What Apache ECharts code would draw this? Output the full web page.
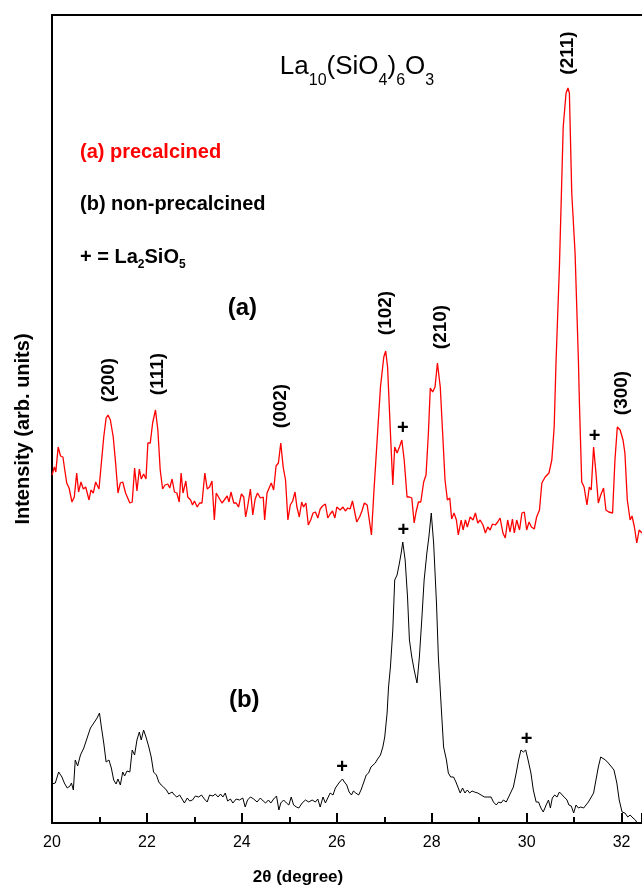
<!DOCTYPE html>
<html>
<head>
<meta charset="utf-8">
<script src="https://cdn.jsdelivr.net/npm/echarts@6/dist/echarts.min.js"></script>
<style>
  html, body { margin: 0; padding: 0; background: #fff; }
  #chart { width: 642px; height: 889px; }
</style>
</head>
<body>
<div id="chart"></div>
<script>
// (a) precalcined: [2theta, intensity (arb.)]
var patternA = [
  [20.00, 348], [20.05, 356], [20.08, 351], [20.13, 376], [20.18, 367], [20.23, 366], [20.26, 356], [20.31, 340],
  [20.36, 335], [20.42, 321], [20.47, 326], [20.52, 350], [20.56, 331], [20.61, 341], [20.66, 334], [20.71, 336],
  [20.78, 323], [20.82, 333], [20.87, 330], [20.92, 341], [20.99, 334], [21.04, 360], [21.09, 386], [21.14, 405],
  [21.18, 408], [21.23, 403], [21.29, 386], [21.34, 360], [21.39, 330], [21.44, 340], [21.49, 341], [21.55, 330],
  [21.58, 332], [21.64, 320], [21.69, 321], [21.74, 355], [21.79, 332], [21.84, 354], [21.88, 344], [21.93, 349],
  [21.98, 344], [22.02, 380], [22.07, 380], [22.12, 400], [22.18, 413], [22.23, 393], [22.28, 353], [22.33, 334],
  [22.38, 338], [22.44, 339], [22.48, 335], [22.53, 344], [22.58, 331], [22.63, 330], [22.68, 321], [22.72, 350],
  [22.76, 330], [22.82, 342], [22.86, 326], [22.92, 323], [22.96, 318], [23.00, 322], [23.06, 316], [23.11, 320],
  [23.16, 320], [23.22, 350], [23.27, 334], [23.32, 336], [23.37, 342], [23.42, 303], [23.46, 330], [23.52, 325],
  [23.58, 320], [23.63, 323], [23.69, 327], [23.73, 321], [23.77, 331], [23.83, 320], [23.88, 320], [23.93, 316],
  [23.99, 329], [24.04, 326], [24.08, 306], [24.12, 316], [24.18, 334], [24.23, 308], [24.28, 324], [24.33, 330],
  [24.39, 325], [24.45, 326], [24.48, 303], [24.53, 330], [24.57, 328], [24.62, 340], [24.67, 333], [24.72, 357],
  [24.77, 360], [24.82, 380], [24.87, 356], [24.92, 343], [24.97, 303], [25.02, 318], [25.07, 322], [25.12, 331],
  [25.16, 316], [25.21, 306], [25.26, 321], [25.30, 316], [25.35, 320], [25.40, 298], [25.45, 303], [25.50, 310],
  [25.55, 311], [25.60, 305], [25.65, 314], [25.70, 317], [25.76, 319], [25.81, 305], [25.86, 309], [25.91, 312],
  [25.96, 305], [26.00, 316], [26.07, 313], [26.13, 316], [26.18, 312], [26.23, 315], [26.28, 314], [26.33, 322],
  [26.37, 323], [26.42, 301], [26.48, 306], [26.53, 312], [26.58, 320], [26.64, 318], [26.68, 316], [26.73, 288],
  [26.78, 330], [26.85, 383], [26.92, 436], [26.99, 466], [27.03, 472], [27.07, 456], [27.13, 390], [27.18, 338],
  [27.22, 376], [27.27, 370], [27.32, 376], [27.37, 383], [27.42, 363], [27.48, 326], [27.53, 326], [27.58, 325],
  [27.63, 300], [27.67, 311], [27.72, 321], [27.77, 321], [27.83, 341], [27.88, 348], [27.93, 390], [27.97, 435],
  [28.02, 431], [28.07, 436], [28.12, 460], [28.18, 436], [28.23, 390], [28.28, 343], [28.33, 323], [28.38, 325],
  [28.42, 304], [28.47, 310], [28.52, 303], [28.56, 288], [28.62, 303], [28.66, 293], [28.71, 303], [28.75, 296],
  [28.81, 306], [28.87, 303], [28.92, 310], [28.97, 300], [29.02, 303], [29.08, 298], [29.13, 290], [29.18, 296],
  [29.23, 293], [29.28, 299], [29.34, 298], [29.39, 301], [29.44, 305], [29.50, 290], [29.55, 285], [29.60, 303],
  [29.65, 291], [29.70, 304], [29.74, 290], [29.79, 303], [29.85, 293], [29.90, 310], [29.95, 311], [30.00, 293],
  [30.05, 301], [30.10, 296], [30.16, 294], [30.21, 306], [30.27, 313], [30.32, 340], [30.39, 346], [30.47, 350],
  [30.53, 363], [30.58, 396], [30.62, 463], [30.69, 556], [30.77, 696], [30.83, 730], [30.87, 735], [30.90, 730],
  [30.95, 630], [31.02, 570], [31.09, 463], [31.11, 423], [31.16, 341], [31.21, 336], [31.27, 318], [31.32, 336],
  [31.36, 333], [31.41, 376], [31.46, 350], [31.51, 320], [31.56, 328], [31.62, 335], [31.67, 313], [31.73, 311],
  [31.81, 310], [31.86, 363], [31.91, 396], [31.97, 393], [32.03, 383], [32.07, 370], [32.12, 323], [32.18, 303],
  [32.22, 307], [32.27, 296], [32.32, 280], [32.37, 293], [32.43, 290]
];

// (b) non-precalcined
var patternB = [
  [20.00, 39], [20.07, 40], [20.14, 51], [20.21, 46], [20.26, 40], [20.32, 35], [20.38, 37], [20.41, 40],
  [20.45, 33], [20.49, 63], [20.54, 57], [20.60, 68], [20.67, 75], [20.74, 85], [20.81, 95], [20.88, 100],
  [20.95, 105], [21.00, 110], [21.04, 96], [21.09, 80], [21.14, 61], [21.20, 63], [21.25, 55], [21.30, 43],
  [21.35, 39], [21.39, 44], [21.44, 38], [21.49, 51], [21.53, 47], [21.58, 52], [21.64, 51], [21.69, 73],
  [21.74, 68], [21.79, 83], [21.84, 91], [21.88, 83], [21.93, 93], [21.98, 86], [22.04, 76], [22.09, 66],
  [22.14, 51], [22.20, 48], [22.25, 41], [22.30, 38], [22.35, 36], [22.41, 33], [22.46, 29], [22.53, 31],
  [22.58, 28], [22.63, 26], [22.69, 28], [22.74, 24], [22.79, 20], [22.85, 25], [22.90, 22], [22.96, 23],
  [23.02, 27], [23.09, 26], [23.15, 28], [23.21, 24], [23.27, 21], [23.32, 28], [23.39, 27], [23.44, 29],
  [23.50, 26], [23.55, 29], [23.60, 26], [23.65, 30], [23.70, 22], [23.76, 24], [23.81, 20], [23.88, 24],
  [23.95, 23], [24.02, 25], [24.07, 16], [24.12, 23], [24.18, 26], [24.25, 24], [24.32, 21], [24.39, 25],
  [24.45, 22], [24.50, 20], [24.56, 23], [24.61, 20], [24.67, 24], [24.73, 27], [24.78, 13], [24.82, 20],
  [24.88, 23], [24.94, 20], [24.99, 18], [25.04, 26], [25.09, 18], [25.15, 16], [25.20, 15], [25.27, 20],
  [25.34, 23], [25.41, 21], [25.48, 23], [25.55, 21], [25.60, 24], [25.65, 16], [25.71, 26], [25.76, 20],
  [25.81, 25], [25.86, 30], [25.92, 28], [25.97, 35], [26.00, 36], [26.06, 41], [26.12, 44], [26.16, 41],
  [26.21, 38], [26.26, 31], [26.31, 28], [26.35, 32], [26.40, 30], [26.46, 28], [26.51, 33], [26.57, 41],
  [26.62, 48], [26.67, 50], [26.72, 56], [26.76, 55], [26.81, 60], [26.86, 64], [26.92, 68], [26.97, 76],
  [27.01, 86], [27.06, 110], [27.09, 136], [27.13, 156], [27.18, 193], [27.22, 243], [27.27, 248], [27.32, 260],
  [27.36, 271], [27.39, 281], [27.44, 263], [27.49, 226], [27.53, 183], [27.58, 166], [27.63, 153], [27.69, 140],
  [27.74, 166], [27.79, 203], [27.84, 243], [27.90, 271], [27.94, 286], [27.99, 310], [28.04, 280], [28.10, 220],
  [28.14, 166], [28.20, 116], [28.25, 76], [28.31, 63], [28.35, 50], [28.40, 46], [28.46, 46], [28.51, 41],
  [28.55, 41], [28.60, 30], [28.65, 35], [28.70, 30], [28.75, 33], [28.80, 30], [28.85, 32], [28.90, 31],
  [28.97, 30], [29.04, 28], [29.11, 26], [29.18, 26], [29.25, 26], [29.30, 21], [29.36, 18], [29.41, 21],
  [29.46, 20], [29.51, 23], [29.57, 21], [29.62, 26], [29.67, 31], [29.72, 36], [29.78, 50], [29.83, 63],
  [29.88, 73], [29.93, 71], [29.98, 73], [30.03, 63], [30.09, 50], [30.14, 33], [30.20, 21], [30.25, 21],
  [30.30, 15], [30.35, 11], [30.41, 18], [30.46, 23], [30.50, 15], [30.54, 25], [30.59, 28], [30.64, 26],
  [30.69, 31], [30.73, 29], [30.79, 26], [30.85, 23], [30.89, 18], [30.94, 17], [30.99, 10], [31.04, 18],
  [31.09, 15], [31.14, 16], [31.20, 15], [31.25, 18], [31.30, 21], [31.35, 25], [31.41, 30], [31.46, 43],
  [31.51, 56], [31.56, 66], [31.60, 68], [31.66, 63], [31.72, 60], [31.79, 56], [31.84, 53], [31.90, 40],
  [31.95, 23], [32.01, 11], [32.07, 10], [32.13, 6], [32.18, 8], [32.24, 5], [32.29, 3], [32.33, 0]
];

// reflection indices: [2theta, height, label]
var peakLabels = [
  [21.19, 443, '(200)'], [22.23, 449, '(111)'], [24.83, 417, '(002)'], [27.04, 510, '(102)'],
  [28.18, 496, '(210)'], [30.87, 770, '(211)'], [32.01, 430, '(300)']
];
// La2SiO5 reflections
var plusMarks = [[27.39, 395], [31.43, 387], [27.40, 293], [26.11, 56], [30.00, 84]];
var curveNames = [[24.01, 515, '(a)'], [24.05, 123, '(b)']];

var xMin = 20, xMax = 32.43;
var font = 'Liberation Sans, Arial, Helvetica, sans-serif';

var chart = echarts.init(document.getElementById('chart'));

function textLayer(data, size, rotate, formatter) {
  return {
    type: 'scatter',
    data: data,
    symbolSize: 0,
    silent: true,
    itemStyle: { opacity: 1 },
    label: {
      show: true,
      position: 'inside',
      rotate: rotate,
      formatter: formatter,
      color: '#000',
      opacity: 1,
      fontSize: size,
      fontWeight: 'bold',
      fontFamily: font
    },
    emphasis: { disabled: true },
    z: 5
  };
}

let option = {
  animation: false,
  backgroundColor: '#fff',
  grid: { left: 52, right: 0, top: 15, bottom: 66 },
  xAxis: [{
    type: 'value',
    min: xMin,
    max: xMax,
    interval: 2,
    axisLine: { show: true, onZero: false, lineStyle: { color: '#000', width: 2 } },
    axisTick: { show: true, inside: true, length: 10, lineStyle: { color: '#000', width: 2 } },
    minorTick: { show: true, splitNumber: 2, length: 6, lineStyle: { color: '#000', width: 2 } },
    axisLabel: { color: '#000', fontSize: 16, fontFamily: font, margin: 12, showMaxLabel: false },
    splitLine: { show: false }
  }, {
    type: 'value',
    position: 'top',
    min: xMin,
    max: xMax,
    axisLine: { show: true, onZero: false, lineStyle: { color: '#000', width: 2 } },
    axisTick: { show: false },
    axisLabel: { show: false },
    splitLine: { show: false }
  }],
  yAxis: {
    type: 'value',
    min: 0,
    max: 808,
    axisLine: { show: true, onZero: false, lineStyle: { color: '#000', width: 2 } },
    axisTick: { show: false },
    axisLabel: { show: false },
    splitLine: { show: false }
  },
  series: [{
    name: '(a) precalcined',
    type: 'line',
    data: patternA,
    symbol: 'none',
    lineStyle: { color: '#ff0000', width: 1.3 },
    z: 3
  }, {
    name: '(b) non-precalcined',
    type: 'line',
    data: patternB,
    symbol: 'none',
    lineStyle: { color: '#000', width: 1 },
    z: 3
  },
    textLayer(peakLabels, 19, 90, function (p) { return p.data[2]; }),
    textLayer(plusMarks, 20, 0, '+'),
    textLayer(curveNames, 24, 0, function (p) { return p.data[2]; })
  ],
  graphic: [{
    type: 'text',
    x: 357,
    y: 71,
    style: {
      text: '{n|La}{s|10}{n|(SiO}{s|4}{n|)}{s|6}{n|O}{s|3}',
      align: 'center',
      verticalAlign: 'middle',
      fill: '#000',
      rich: {
        n: { fontSize: 26, fontFamily: font, lineHeight: 35, verticalAlign: 'top', fill: '#000' },
        s: { fontSize: 16, fontFamily: font, lineHeight: 16, verticalAlign: 'bottom', fill: '#000' }
      }
    }
  }, {
    type: 'text',
    x: 80,
    y: 152,
    style: {
      text: '(a) precalcined',
      font: 'bold 20px ' + font,
      fill: '#ff0000',
      align: 'left',
      verticalAlign: 'middle'
    }
  }, {
    type: 'text',
    x: 80,
    y: 204,
    style: {
      text: '(b) non-precalcined',
      font: 'bold 20px ' + font,
      fill: '#000',
      align: 'left',
      verticalAlign: 'middle'
    }
  }, {
    type: 'text',
    x: 80,
    y: 259,
    style: {
      text: '{n|+ = La}{s|2}{n|SiO}{s|5}',
      align: 'left',
      verticalAlign: 'middle',
      fill: '#000',
      rich: {
        n: { fontSize: 20, fontWeight: 'bold', fontFamily: font, lineHeight: 24, verticalAlign: 'top', fill: '#000' },
        s: { fontSize: 12, fontWeight: 'bold', fontFamily: font, lineHeight: 12, verticalAlign: 'bottom', fill: '#000' }
      }
    }
  }, {
    type: 'text',
    x: 23,
    y: 429,
    rotation: Math.PI / 2,
    style: {
      text: 'Intensity (arb. units)',
      font: 'bold 20px ' + font,
      fill: '#000',
      align: 'center',
      verticalAlign: 'middle'
    }
  }, {
    type: 'text',
    x: 298,
    y: 877,
    style: {
      text: '2θ (degree)',
      font: 'bold 17px ' + font,
      fill: '#000',
      align: 'center',
      verticalAlign: 'middle'
    }
  }]
};

chart.setOption(option);
</script>
</body>
</html>
